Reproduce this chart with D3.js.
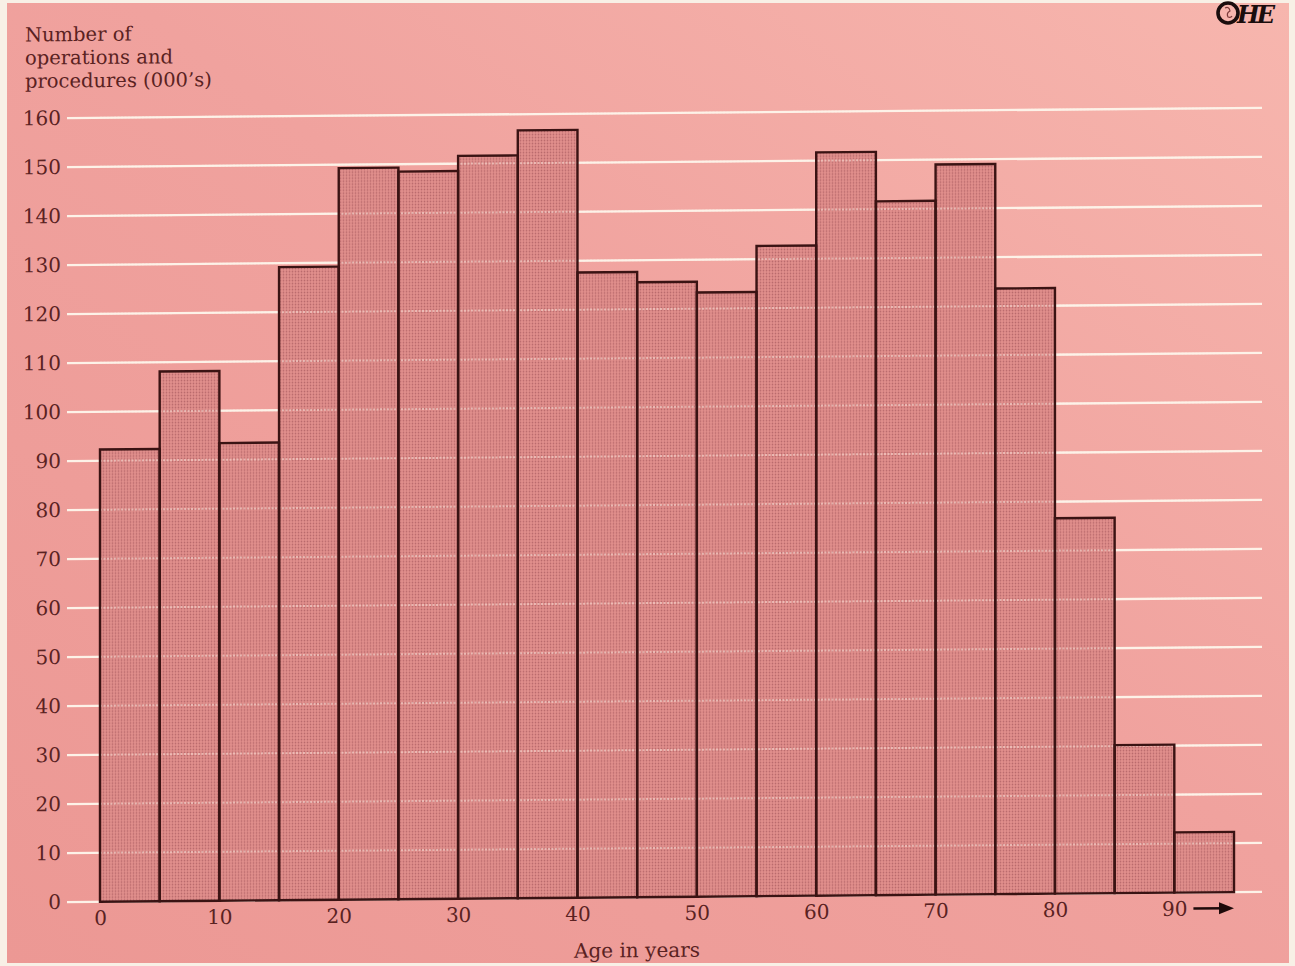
<!DOCTYPE html>
<html>
<head>
<meta charset="utf-8">
<script src="https://cdn.jsdelivr.net/npm/d3@7"></script>
<style>
  html, body { margin: 0; padding: 0; background: #f8f0e6; }
  svg { display: block; }
  text { font-family: "DejaVu Serif", "Liberation Serif", serif; fill: #5a2222; }
</style>
</head>
<body>
<svg id="chart" width="1295" height="966"></svg>
<script>
// Age groups (start of each 5-year band; the last band is 90 and over)
const ageStarts = [0, 5, 10, 15, 20, 25, 30, 35, 40, 45, 50, 55, 60, 65, 70, 75, 80, 85, 90];
// Number of operations and procedures, thousands
const counts = [92.3, 108.1, 93.4, 129.2, 149.3, 148.5, 151.6, 156.7, 127.6, 125.5,
                123.3, 132.7, 151.7, 141.6, 149.0, 123.6, 76.6, 30.2, 12.3];
const bandWidth = 5;
const yTickValues = [0, 10, 20, 30, 40, 50, 60, 70, 80, 90, 100, 110, 120, 130, 140, 150, 160];
const xTickValues = [0, 10, 20, 30, 40, 50, 60, 70, 80, 90];
const titleLines = ["Number of", "operations and", "procedures (000\u2019s)"];
const xTitle = "Age in years";

const svg = d3.select("#chart");

// page background
const defs = svg.append("defs");
const bg = defs.append("linearGradient").attr("id", "paper")
  .attr("x1", "0").attr("y1", "1").attr("x2", "1").attr("y2", "0");
bg.append("stop").attr("offset", "0").attr("stop-color", "#ec9894");
bg.append("stop").attr("offset", "0.55").attr("stop-color", "#f0a29e");
bg.append("stop").attr("offset", "1").attr("stop-color", "#f7b6ae");

// halftone screen used for the bars
const pat = defs.append("pattern").attr("id", "screen")
  .attr("patternUnits", "userSpaceOnUse").attr("width", 3).attr("height", 3);
pat.append("rect").attr("width", 3).attr("height", 3).attr("fill", "#e3908d");
pat.append("circle").attr("cx", 1.5).attr("cy", 1.5).attr("r", 0.95).attr("fill", "#b96a6c");

svg.append("rect").attr("x", 7).attr("y", 3).attr("width", 1282).attr("height", 960)
  .attr("fill", "url(#paper)");

// the printed sheet sits very slightly tilted
const tilt = -10 / 1180, pivotX = 660;
const g = svg.append("g")
  .attr("transform", `matrix(1,${tilt},0,1,0,${-tilt * pivotX})`);

const x = d3.scaleLinear().domain([0, 95]).range([100, 1234]);
const y = d3.scaleLinear().domain([0, 160]).range([897, 113]);

const gridX0 = 67, gridX1 = 1262;

// gridlines behind the bars
g.append("g").selectAll("line").data(yTickValues).join("line")
  .attr("x1", gridX0).attr("x2", gridX1)
  .attr("y1", d => y(d)).attr("y2", d => y(d))
  .attr("stroke", "#fdf2e8").attr("stroke-width", 2.3);

// bars
g.append("g").selectAll("rect").data(ageStarts).join("rect")
  .attr("x", (d) => x(d))
  .attr("width", (d) => x(d + bandWidth) - x(d))
  .attr("y", (d, i) => y(counts[i]))
  .attr("height", (d, i) => y(0) - y(counts[i]))
  .attr("fill", "url(#screen)");

// gridlines show faintly through the screened bars
g.append("g").selectAll("line").data(yTickValues).join("line")
  .attr("x1", x(0)).attr("x2", x(95))
  .attr("y1", d => y(d)).attr("y2", d => y(d))
  .attr("stroke", "#fdf2e8").attr("stroke-width", 2)
  .attr("stroke-dasharray", "2,1.5").attr("opacity", 0.45);

// bar outlines
g.append("g").selectAll("rect").data(ageStarts).join("rect")
  .attr("x", (d) => x(d))
  .attr("width", (d) => x(d + bandWidth) - x(d))
  .attr("y", (d, i) => y(counts[i]))
  .attr("height", (d, i) => y(0) - y(counts[i]))
  .attr("fill", "none").attr("stroke", "#3a1313").attr("stroke-width", 2.4);

// y axis labels
const yAxis = g.append("g").attr("transform", `translate(${gridX0},0)`)
  .call(d3.axisLeft(y).tickValues(yTickValues).tickSize(0).tickPadding(6).tickFormat(d3.format("d")));
yAxis.select(".domain").remove();
yAxis.selectAll("text").attr("font-size", 20).attr("font-family", null).style("fill", "#5a2222");

// x axis labels
const xAxis = g.append("g").attr("transform", `translate(0,${y(0)})`)
  .call(d3.axisBottom(x).tickValues(xTickValues).tickSize(0).tickPadding(9).tickFormat(d3.format("d")));
xAxis.select(".domain").remove();
xAxis.selectAll("text").attr("font-size", 20).attr("font-family", null).style("fill", "#5a2222");

// open-ended last band arrow
const arrowY = y(0) + 16;
g.append("line").attr("x1", x(91.6)).attr("x2", x(94.4))
  .attr("y1", arrowY).attr("y2", arrowY)
  .attr("stroke", "#1e0a0a").attr("stroke-width", 2.6);
g.append("path")
  .attr("d", `M${x(95)},${arrowY} L${x(95) - 15},${arrowY - 6} L${x(95) - 15},${arrowY + 6} Z`)
  .attr("fill", "#1e0a0a");

// axis title
g.append("text").attr("x", 637).attr("y", 957).attr("text-anchor", "middle")
  .attr("font-size", 20).text(xTitle);

// y axis title
g.append("text").attr("x", 25).attr("font-size", 19.5)
  .selectAll("tspan").data(titleLines).join("tspan")
  .attr("x", 25).attr("y", (d, i) => 36 + i * 23.2).text(d => d);

// publisher mark
const logo = svg.append("g").attr("transform", "translate(1216,2)");
logo.append("circle").attr("cx", 12).attr("cy", 11).attr("r", 10)
  .attr("fill", "none").attr("stroke", "#1a0d0d").attr("stroke-width", 3.6);
logo.append("path").attr("d", "M9,6 q4,-2 5,3 q-4,2 -2,6 q3,1 4,-1")
  .attr("fill", "none").attr("stroke", "#7a3a3a").attr("stroke-width", 1.2);
logo.append("text").attr("x", 21).attr("y", 21)
  .attr("font-family", "DejaVu Sans").attr("font-weight", "bold").attr("font-style", "italic")
  .attr("font-size", 24).attr("letter-spacing", -3).style("fill", "#1a0d0d").text("HE");
</script>
</body>
</html>
